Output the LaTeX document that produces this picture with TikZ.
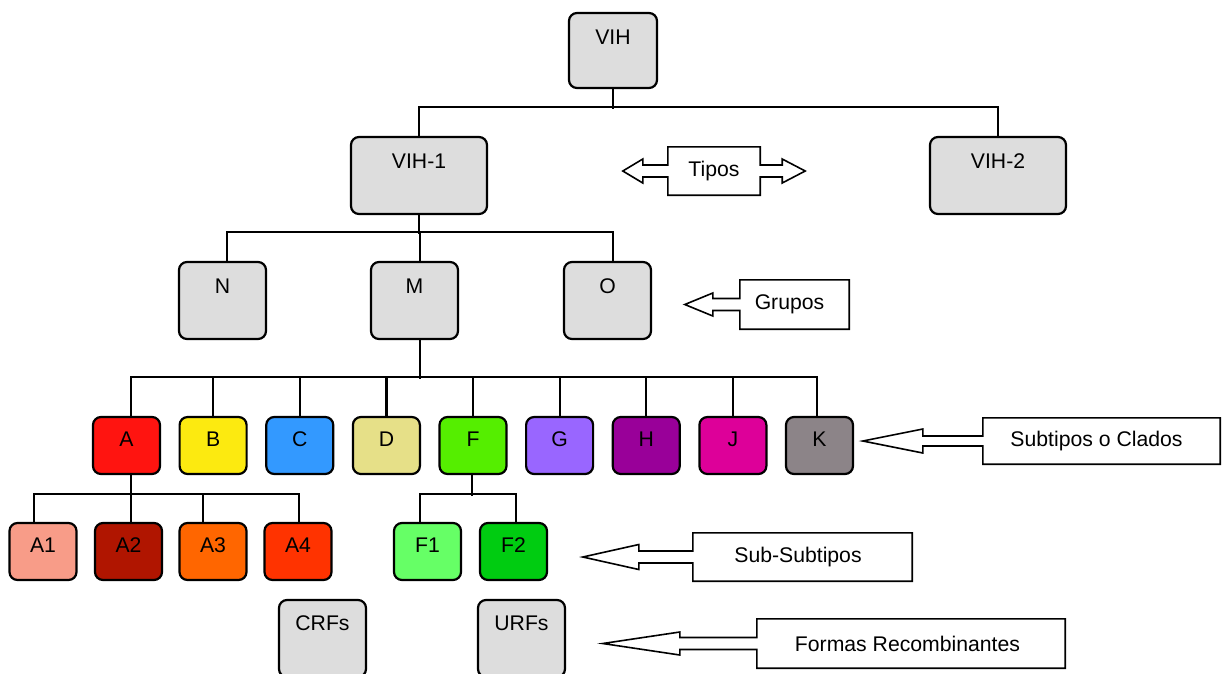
\documentclass[tikz,border=0pt]{standalone}
\usepackage{fontspec}
\setmainfont{Liberation Sans}
\usetikzlibrary{calc}
\definecolor{gfill}{HTML}{DDDDDD}
\definecolor{cA}{HTML}{FF1410}
\definecolor{cB}{HTML}{FCEA10}
\definecolor{cC}{HTML}{3399FF}
\definecolor{cD}{HTML}{E6E088}
\definecolor{cF}{HTML}{55EE00}
\definecolor{cG}{HTML}{9966FF}
\definecolor{cH}{HTML}{990099}
\definecolor{cJ}{HTML}{DD0099}
\definecolor{cK}{HTML}{8C8488}
\definecolor{cAa}{HTML}{F89C88}
\definecolor{cAb}{HTML}{B01500}
\definecolor{cAc}{HTML}{FF6600}
\definecolor{cAd}{HTML}{FF3300}
\definecolor{cFa}{HTML}{66FF66}
\definecolor{cFb}{HTML}{00CC11}
\begin{document}
\begin{tikzpicture}[x=1pt,y=-1pt,
  font=\fontsize{21.2}{25}\selectfont,
  conn/.style={line width=2.2pt},
  base/.style={draw, line width=2.2pt, rounded corners=8pt, inner sep=0pt},
  gbox/.style={base, fill=gfill, minimum width=87pt, text height=31pt, text depth=46pt},
  sbox/.style={base, minimum width=67pt, text height=29.5pt, text depth=27.5pt},
  lbl/.style={inner sep=0pt},
  callout/.style={draw, line width=1.6pt, line join=miter}]
\useasboundingbox (0,0) rectangle (1222,673);

% top levels
\node[gbox, minimum width=88pt, text depth=44pt] (vih) at (613,50.5) {VIH};
\node[gbox, minimum width=136pt] (vih1) at (419,175.5) {VIH-1};
\node[gbox, minimum width=136pt] (vih2) at (998,175.5) {VIH-2};
\node[gbox] (n) at (222.5,300.5) {N};
\node[gbox] (m) at (414.5,300.5) {M};
\node[gbox] (o) at (607.5,300.5) {O};

% subtypes
\node[sbox, fill=cA] (sa) at (126.5,445.5) {A};
\node[sbox, fill=cB] (sb) at (213.1,445.5) {B};
\node[sbox, fill=cC] (sc) at (299.75,445.5) {C};
\node[sbox, fill=cD] (sd) at (386.4,445.5) {D};
\node[sbox, fill=cF] (sf) at (473,445.5) {F};
\node[sbox, fill=cG] (sg) at (559.6,445.5) {G};
\node[sbox, fill=cH] (sh) at (646.25,445.5) {H};
\node[sbox, fill=cJ] (sj) at (732.9,445.5) {J};
\node[sbox, fill=cK] (sk) at (819.5,445.5) {K};

% sub-subtypes
\node[sbox, fill=cAa] (a1) at (43,551.5) {A1};
\node[sbox, fill=cAb] (a2) at (128.5,551.5) {A2};
\node[sbox, fill=cAc] (a3) at (213,551.5) {A3};
\node[sbox, fill=cAd] (a4) at (298,551.5) {A4};
\node[sbox, fill=cFa] (f1) at (427.5,551.5) {F1};
\node[sbox, fill=cFb] (f2) at (513.5,551.5) {F2};

% recombinant forms
\node[gbox, text height=30pt, text depth=47pt] (crf) at (322.5,638.5) {CRFs};
\node[gbox, text height=30pt, text depth=47pt] (urf) at (521.5,638.5) {URFs};

% connectors
\draw[conn] (vih.south) -- ++(0,20);
\draw[conn] (vih1.north) -- ++(0,-29) -| (vih2.north);
\draw[conn] (vih1.south) -- ++(0,19);
\draw[conn] ([xshift=4.5pt]n.north) -- ++(0,-29) -| ([xshift=5.5pt]o.north);
\draw[conn] ([xshift=5.5pt]m.north) -- ++(0,-29);
\draw[conn] ([xshift=5.5pt]m.south) -- ++(0,39);
\draw[conn] ([xshift=4.5pt]sa.north) -- ++(0,-39) -| ([xshift=-2.5pt]sk.north);
\foreach \s in {sb,sc,sd,sf,sg,sh,sj} \draw[conn] (\s.north) -- ++(0,-39);
\draw[conn] ([xshift=4.5pt]sa.south) -- ++(0,21);
\draw[conn] ([xshift=-9pt]a1.north) -- ++(0,-28) -| ([xshift=1pt]a4.north);
\draw[conn] ([xshift=2.5pt]a2.north) -- ++(0,-28);
\draw[conn] ([xshift=-10pt]a3.north) -- ++(0,-28);
\draw[conn] ([xshift=-1pt]sf.south) -- ++(0,21);
\draw[conn] ([xshift=-7.5pt]f1.north) -- ++(0,-28) -| ([xshift=2.5pt]f2.north);

% label callouts
\node[lbl, minimum width=92pt, minimum height=48pt] (tipos) at (714,171) {Tipos};
\draw[callout] (tipos.north west) -- (tipos.north east) -- ($(tipos.east)+(0,-6)$)
  -- ++(22,0) -- ++(0,-6) -- ++(23,12) -- ++(-23,12) -- ++(0,-6) -- ++(-22,0)
  -- (tipos.south east) -- (tipos.south west) -- ($(tipos.west)+(0,6)$)
  -- ++(-25,0) -- ++(0,6) -- ++(-20,-12) -- ++(20,-12) -- ++(0,6) -- ++(25,0) -- cycle;

\node[lbl, minimum width=109pt, minimum height=49pt] (grupos) at (794.5,304.5) {Grupos\kern10pt};
\draw[callout] (grupos.south west) -- ($(grupos.west)+(0,6)$) -- ++(-27,0) -- ++(0,5.5)
  -- ++(-28,-11.5) -- ++(28,-11.5) -- ++(0,5.5) -- ++(27,0) -- (grupos.north west)
  -- (grupos.north east) -- (grupos.south east) -- cycle;

\node[lbl, minimum width=237pt, minimum height=46pt] (subt) at (1101.5,441) {Subtipos o Clados\kern10pt};
\draw[callout] (subt.south west) -- ($(subt.west)+(0,5)$) -- ++(-60,0) -- ++(0,7)
  -- ++(-60,-12) -- ++(60,-12) -- ++(0,7) -- ++(60,0) -- (subt.north west)
  -- (subt.north east) -- (subt.south east) -- cycle;

\node[lbl, minimum width=219pt, minimum height=48pt] (subsub) at (802.5,557) {Sub-Subtipos\kern9pt};
\draw[callout] (subsub.south west) -- ($(subsub.west)+(0,6)$) -- ++(-54,0) -- ++(0,6.5)
  -- ++(-56,-12.5) -- ++(56,-12.5) -- ++(0,6.5) -- ++(54,0) -- (subsub.north west)
  -- (subsub.north east) -- (subsub.south east) -- cycle;

\node[lbl, minimum width=308pt, minimum height=49pt] (formas) at (911,643.5) {Formas Recombinantes\kern7pt};
\draw[callout] (formas.south west) -- ($(formas.west)+(0,6)$) -- ++(-77,0) -- ++(0,5.5)
  -- ++(-77,-11.5) -- ++(77,-11.5) -- ++(0,5.5) -- ++(77,0) -- (formas.north west)
  -- (formas.north east) -- (formas.south east) -- cycle;
\end{tikzpicture}
\end{document}
